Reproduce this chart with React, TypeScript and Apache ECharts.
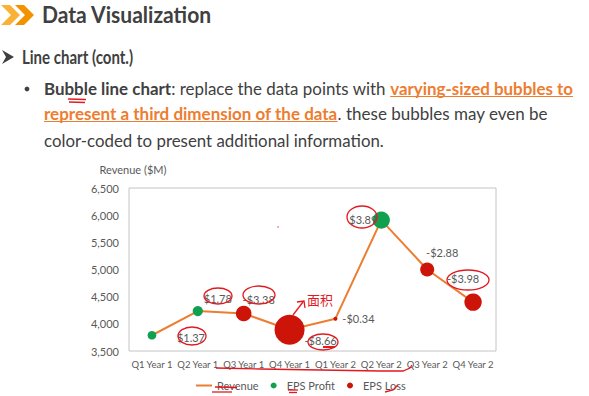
import React, { useEffect, useRef } from "react";
import * as echarts from "echarts";

// ---------- data ----------
const categories = ["Q1 Year 1", "Q2 Year 1", "Q3 Year 1", "Q4 Year 1", "Q1 Year 2", "Q2 Year 2", "Q3 Year 2", "Q4 Year 2"];
const revenue = [3790, 4235, 4190, 3890, 4095, 5910, 5000, 4400];
const eps = [1.37, 1.78, -3.38, -8.66, -0.34, 3.89, -2.88, -3.98];
const yMin = 3500;
const yMax = 6500;
const yStep = 500;

const titleText = "Data Visualization";
const headingText = "Line chart (cont.)";
const bodyLines = [
  [
    { t: "Bubble line chart", b: true },
    { t: ": replace the data points with " },
    { t: "varying-sized bubbles to", b: true, o: true },
  ],
  [
    { t: "represent a third dimension of the data", b: true, o: true },
    { t: ". these bubbles may even be" },
  ],
  [{ t: "color-coded to present additional information." }],
];

// ---------- layout / style ----------
const FONT = "Lato";
const DARK = "#404040";
const ORANGE = "#ED7D31";
const GREEN = "#11a04f";
const RED = "#cc1408";
const GRAY = "#595959";
const INK = "#e3191f";
const bodyLayout = [
  { y: 88, x0: 44, x1: 573 },
  { y: 113, x0: 44, x1: 548 },
  { y: 140, x0: 44, x1: 384 },
];
// label offsets (px) relative to bubble centre
const labelOffsets = [
  [39, 2], [20, -13], [15, -14], [31, 11], [23, 0], [-18, -1], [15, -17], [-10, -24],
];

const bubbleSize = (v: number) => 1.5 + 5.65 * Math.pow(Math.abs(v), 0.75);
const fmtEps = (v: number) => (v < 0 ? "-$" : "$") + Math.abs(v).toFixed(2);

let ctx: CanvasRenderingContext2D | null = null;
function measure(text: string, weight: string, size: number, family = FONT) {
  if (!ctx) ctx = document.createElement("canvas").getContext("2d");
  ctx!.font = `${weight} ${size}px ${family}`;
  return ctx!.measureText(text).width;
}

function buildGraphic() {
  const g: any[] = [];
  // chevrons
  g.push({ type: "polygon", shape: { points: [[1, 5], [10, 5], [20, 15], [10, 25], [1, 25], [11, 15]] }, style: { fill: "#F9B233" } });
  g.push({ type: "polygon", shape: { points: [[15, 5], [24, 5], [34, 15], [24, 25], [15, 25], [25, 15]] }, style: { fill: "#F39200" } });
  const fitText = (text: string, x: number, y: number, size: number, target: number) => {
    const w = measure(text, "bold", size);
    g.push({ type: "text", x, y, scaleX: target / w, style: { text, fontSize: size, fontWeight: "bold", fontFamily: FONT, fill: DARK, verticalAlign: "middle" } });
  };
  // title
  fitText(titleText, 42, 15, 22, 170);
  // heading arrow + heading
  g.push({ type: "polygon", shape: { points: [[2, 50], [14, 57], [2, 64], [6, 57]] }, style: { fill: DARK } });
  fitText(headingText, 22, 57, 18, 111);
  // bullet
  g.push({ type: "circle", shape: { cx: 27, cy: 89, r: 2.4 }, style: { fill: DARK } });
  // body lines
  const BODY = 17.5;
  bodyLines.forEach((segs, li) => {
    const lay = bodyLayout[li];
    let wTot = 0;
    segs.forEach((s) => (wTot += measure(s.t, s.b ? "bold" : "normal", BODY)));
    const sx = (lay.x1 - lay.x0) / wTot;
    let x = lay.x0;
    segs.forEach((s) => {
      const wt = s.b ? "bold" : "normal";
      const w = measure(s.t, wt, BODY) * sx;
      g.push({ type: "text", x, y: lay.y, scaleX: sx, style: { text: s.t, fontSize: BODY, fontWeight: wt, fontFamily: FONT, fill: s.o ? ORANGE : DARK, verticalAlign: "middle" } });
      if (s.o) {
        g.push({ type: "line", shape: { x1: x, y1: lay.y + 8.5, x2: x + w, y2: lay.y + 8.5 }, style: { stroke: ORANGE, lineWidth: 1.2 } });
      }
      x += w;
    });
  });

  // ---- hand-drawn red annotations ----
  const ell = (cx: number, cy: number, rx: number, ry: number) =>
    g.push({ type: "ellipse", z: 100, shape: { cx, cy, rx, ry }, style: { stroke: INK, lineWidth: 1.3, fill: "none" } });
  const pl = (pts: number[][], lw = 1.3) =>
    g.push({ type: "polyline", z: 100, shape: { points: pts }, style: { stroke: INK, lineWidth: lw, fill: "none" } });

  pl([[68, 99], [86, 99.5]]);
  pl([[69, 102], [85, 102.5]]);
  ell(192, 336, 14, 9);
  ell(218, 296, 14, 8);
  ell(259, 295, 16, 9);
  ell(323, 342, 15, 8);
  pl([[323, 347], [335, 347]], 2);
  ell(362, 217, 15, 11);
  ell(468, 280, 21, 10);
  pl([[293, 315], [303, 302]]);
  pl([[297, 302], [304, 301], [305, 308]]);
  g.push({ type: "text", z: 100, x: 320, y: 299, style: { text: "面积", fontSize: 13, fontFamily: "Noto Sans CJK SC", fill: INK, align: "center", verticalAlign: "middle" } });
  g.push({ type: "circle", z: 100, shape: { cx: 278, cy: 227, r: 0.8 }, style: { fill: "#f08080" } });
  pl([[216, 368], [260, 369], [320, 370], [380, 371], [403, 371], [410, 368], [412, 365]]);
  pl([[215, 387], [237, 387.5]]);
  pl([[212, 392], [232, 392]]);
  pl([[288, 390], [298, 390]]);
  pl([[289, 392.5], [297, 392.5]]);
  pl([[385, 392], [393, 390], [398, 385]]);
  return g;
}

export default function App() {
  const ref = useRef<HTMLDivElement>(null);
  useEffect(() => {
    if (!ref.current) return;
    const chart = echarts.init(ref.current, undefined, { renderer: "svg" });

    const mk = (profit: boolean) =>
      categories
        .map((c, i) =>
          (eps[i] >= 0) === profit
            ? {
                value: [c, revenue[i]],
                eps: eps[i],
                symbolSize: bubbleSize(eps[i]),
                label: { offset: labelOffsets[i] },
              }
            : null
        )
        .filter(Boolean);

    const labelCfg = {
      show: true,
      position: "inside",
      color: GRAY,
      fontSize: 11,
      fontFamily: FONT,
      formatter: (p: any) => fmtEps(p.data.eps),
    };

    chart.setOption({
      animation: false,
      backgroundColor: "#ffffff",
      textStyle: { fontFamily: FONT },
      grid: { left: 129, right: 93, top: 188, bottom: 45, show: true, borderColor: "#c4c4c4", borderWidth: 1 },
      legend: {
        left: 191,
        top: 375,
        itemWidth: 16,
        itemHeight: 6,
        itemGap: 12,
        textStyle: { color: GRAY, fontSize: 11, fontFamily: FONT },
        data: [
          { name: "Revenue", icon: "path://M0,0L16,0L16,2L0,2Z" },
          { name: "EPS Profit", icon: "circle" },
          { name: "EPS Loss", icon: "circle" },
        ],
      },
      xAxis: {
        type: "category",
        data: categories,
        boundaryGap: true,
        axisLine: { show: false },
        axisTick: { show: false },
        axisLabel: { color: GRAY, fontSize: 9.5, margin: 8, interval: 0 },
      },
      yAxis: {
        type: "value",
        min: yMin,
        max: yMax,
        interval: yStep,
        name: "Revenue ($M)",
        nameLocation: "end",
        nameGap: 13,
        nameTextStyle: { color: GRAY, fontSize: 11, padding: [0, 0, 0, 8] },
        axisLine: { show: false },
        axisTick: { show: false },
        splitLine: { show: false },
        axisLabel: { color: GRAY, fontSize: 11, margin: 10, formatter: (v: number) => v.toLocaleString("en-US") },
      },
      series: [
        {
          name: "Revenue",
          type: "line",
          data: revenue,
          symbol: "none",
          lineStyle: { color: ORANGE, width: 2 },
          itemStyle: { color: ORANGE },
          z: 2,
        },
        {
          name: "EPS Profit",
          type: "scatter",
          data: mk(true),
          itemStyle: { color: GREEN, opacity: 1 },
          label: labelCfg,
          z: 3,
        },
        {
          name: "EPS Loss",
          type: "scatter",
          data: mk(false),
          itemStyle: { color: RED, opacity: 1 },
          label: labelCfg,
          z: 3,
        },
      ],
      graphic: buildGraphic(),
    });
    return () => chart.dispose();
  }, []);
  return <div ref={ref} style={{ position: "fixed", left: 0, top: 0, width: 589, height: 396 }} />;
}
